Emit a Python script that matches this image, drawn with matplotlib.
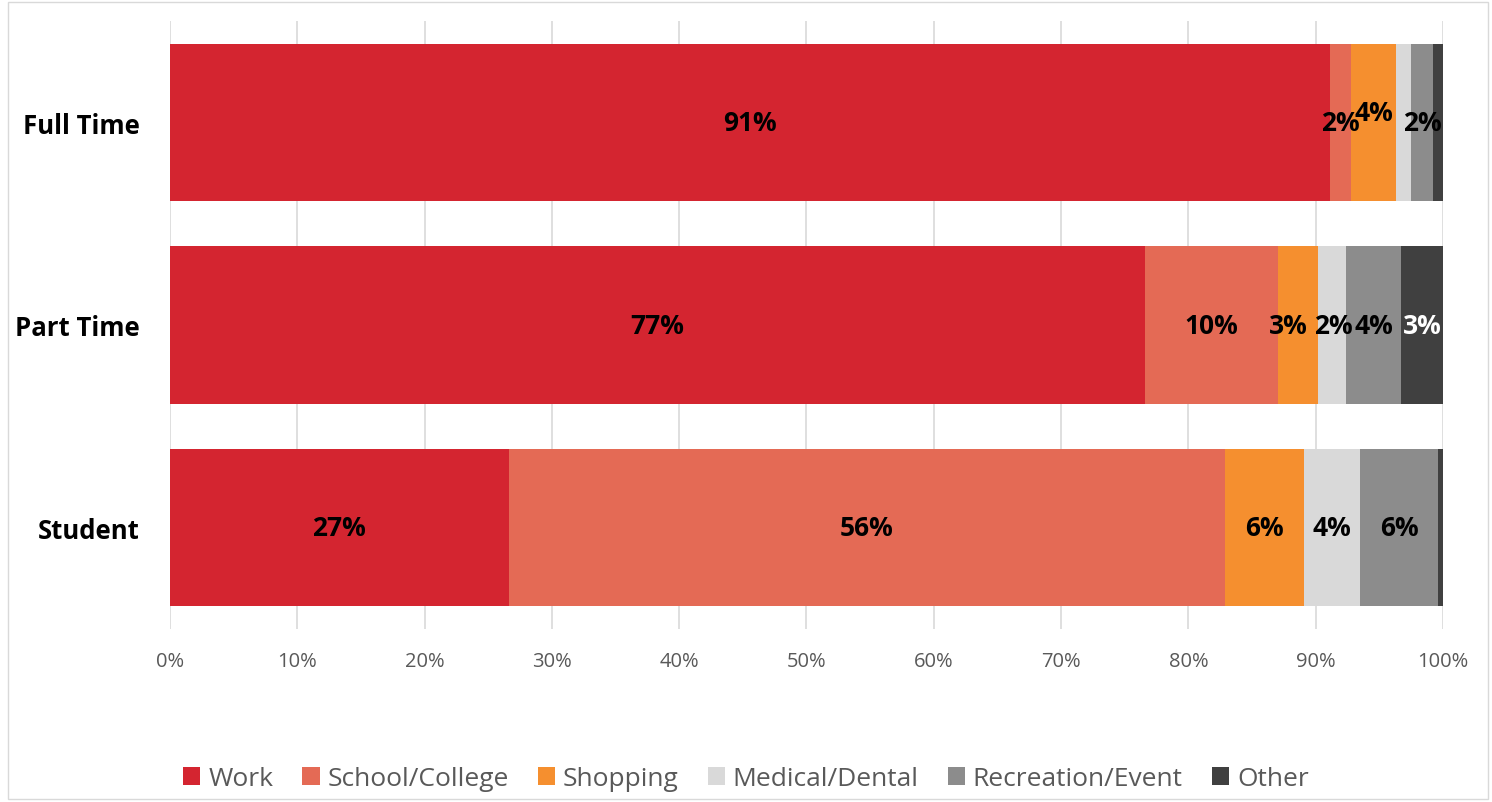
import matplotlib
matplotlib.use("Agg")
import matplotlib.pyplot as plt
from matplotlib.patches import Rectangle

plt.rcParams["font.family"] = ["Open Sans", "DejaVu Sans"]

categories = ["Full Time", "Part Time", "Student"]
purposes = ["Work", "School/College", "Shopping", "Medical/Dental",
            "Recreation/Event", "Other"]
colors = ["#d42530", "#e46a55", "#f58f2f", "#d9d9d9", "#8c8c8c", "#404040"]

# share of trips (%) per purpose, one list per purpose, ordered as categories
work = [91.1, 76.6, 26.6]
school = [1.7, 10.4, 56.3]
shopping = [3.5, 3.2, 6.2]
medical = [1.2, 2.2, 4.4]
recreation = [1.7, 4.3, 6.1]
other = [0.8, 3.3, 0.4]
series = [work, school, shopping, medical, recreation, other]

# which segments carry a value label, and label text colour
labelled = {
    "Full Time": ["Work", "School/College", "Shopping", "Recreation/Event"],
    "Part Time": purposes,
    "Student": ["Work", "School/College", "Shopping", "Medical/Dental",
                "Recreation/Event"],
}
label_colors = {"Other": "white"}
# crowded labels nudged a little (data units: x in %, y in bar slots)
label_dx = {("Part Time", "Shopping"): -0.75, ("Part Time", "Medical/Dental"): 0.05}
label_dy = {("Full Time", "Shopping"): -0.05}

fig = plt.figure(figsize=(14.92, 8.03), dpi=100)
ax = fig.add_axes([170 / 1492, 1 - 630 / 803, 1273 / 1492, 608 / 803])

ypos = list(range(len(categories)))
left = [0.0] * len(categories)
for name, vals, col in zip(purposes, series, colors):
    ax.barh(ypos, vals, left=left, height=0.775, color=col, label=name,
            zorder=3)
    for i, cat in enumerate(categories):
        if name in labelled[cat]:
            ax.text(left[i] + vals[i] / 2 + label_dx.get((cat, name), 0.0),
                    ypos[i] + label_dy.get((cat, name), 0.0),
                    f"{round(vals[i]):.0f}%",
                    ha="center", va="center", fontsize=19, fontweight="bold",
                    color=label_colors.get(name, "black"), zorder=4)
    left = [l + v for l, v in zip(left, vals)]

ax.set_xlim(0, 100)
ax.set_ylim(len(categories) - 0.5, -0.5)
ax.set_xticks(range(0, 101, 10))
ax.set_xticklabels([f"{t}%" for t in range(0, 101, 10)], color="#595959",
                   fontsize=14.5)
ax.set_yticks(ypos)
ax.set_yticklabels(categories, fontsize=18.5, fontweight="bold")
ax.tick_params(axis="both", length=0)
ax.tick_params(axis="x", pad=16)
ax.tick_params(axis="y", pad=22)
ax.grid(axis="x", color="#d9d9d9", lw=1.2, zorder=0)
for s in ax.spines.values():
    s.set_visible(False)

ax.legend(loc="center", bbox_to_anchor=(0.5, (803 - 780) / 803),
          bbox_transform=fig.transFigure, ncol=6, frameon=False,
          fontsize=19, handlelength=0.65, handleheight=0.65, handletextpad=0.3,
          columnspacing=1.1, labelcolor="#595959")

fig.patches.append(Rectangle((8 / 1492, 3 / 803), 1480 / 1492, 797 / 803,
                             transform=fig.transFigure, fill=False,
                             edgecolor="#d9d9d9", lw=1))

fig.savefig("out.png", dpi=100)
